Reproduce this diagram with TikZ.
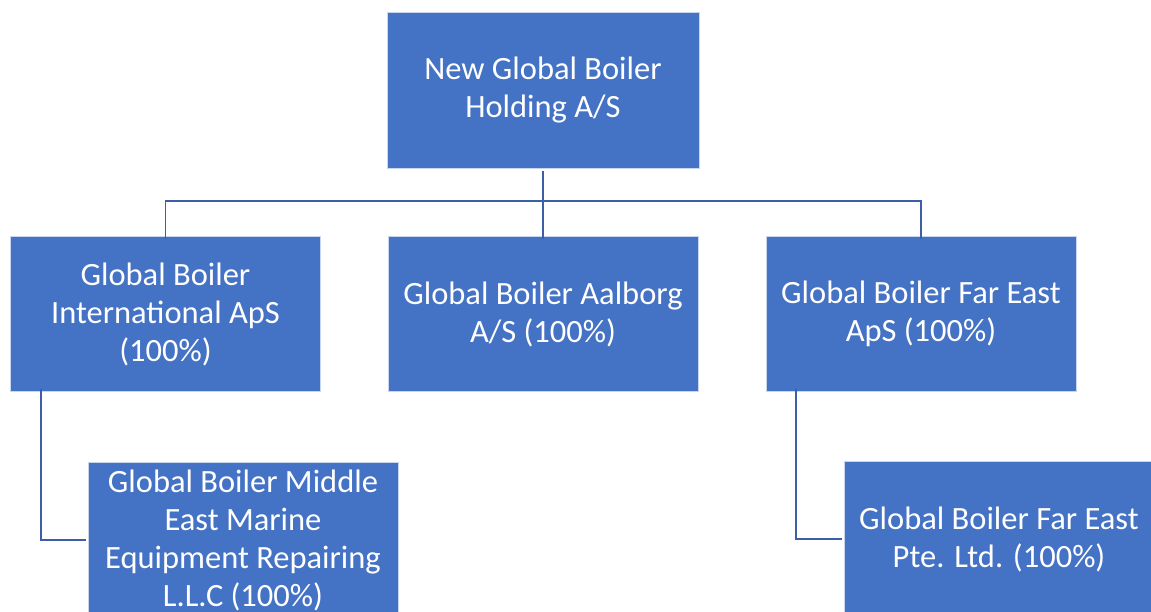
\documentclass[tikz,border=0pt]{standalone}
\usepackage{fontspec}
\setmainfont{Carlito}
\definecolor{boxblue}{HTML}{4472C4}
\definecolor{lineblue}{HTML}{3C5FA8}
\begin{document}
\begin{tikzpicture}[x=1pt,y=-1pt,
  orgbox/.style={draw=white!70!boxblue, line width=0.6pt, fill=boxblue, text=white,
    minimum width=310pt, minimum height=155pt, inner sep=0pt, align=center,
    font=\fontsize{32.5}{38}\selectfont},
  conn/.style={draw=lineblue, line width=1.6pt},
  connthick/.style={draw=lineblue, line width=2.6pt}]
\useasboundingbox (0,0) rectangle (1151,612);
\clip (0,0) rectangle (1151,612);
\fill[white] (0,0) rectangle (1151,612);
\node[orgbox, minimum width=312pt, minimum height=156pt] (top) at (543,90) {New Global Boiler\\Holding A/S};
\node[orgbox] (left) at (165.5,314) {Global Boiler\\International ApS\\(100\%)};
\node[orgbox] (mid) at (543,314) {Global Boiler Aalborg\\A/S (100\%)};
\node[orgbox] (right) at (921,314) {Global Boiler Far East\\ApS (100\%)};
\node[orgbox] (bl) at (243,540) {Global Boiler Middle\\East Marine\\Equipment Repairing\\L.L.C (100\%)};
\node[orgbox] (br) at (999,539) {Global Boiler Far East\\Pte. Ltd. (100\%)};
\coordinate (bus) at (543,201);
\draw[connthick] ([yshift=-3pt]top.south) -- (bus);
\draw[conn] ([yshift=-3pt]left.north) |- (bus) -| ([yshift=-3pt]right.north);
\draw[conn] (bus) -- ([yshift=-3pt]mid.north);
\draw[conn] ([xshift=-124.5pt,yshift=3pt]left.south) |- ([xshift=-2pt]bl.west);
\draw[conn] ([xshift=-125pt,yshift=3pt]right.south) |- ([xshift=-2pt]br.west);
\end{tikzpicture}
\end{document}
